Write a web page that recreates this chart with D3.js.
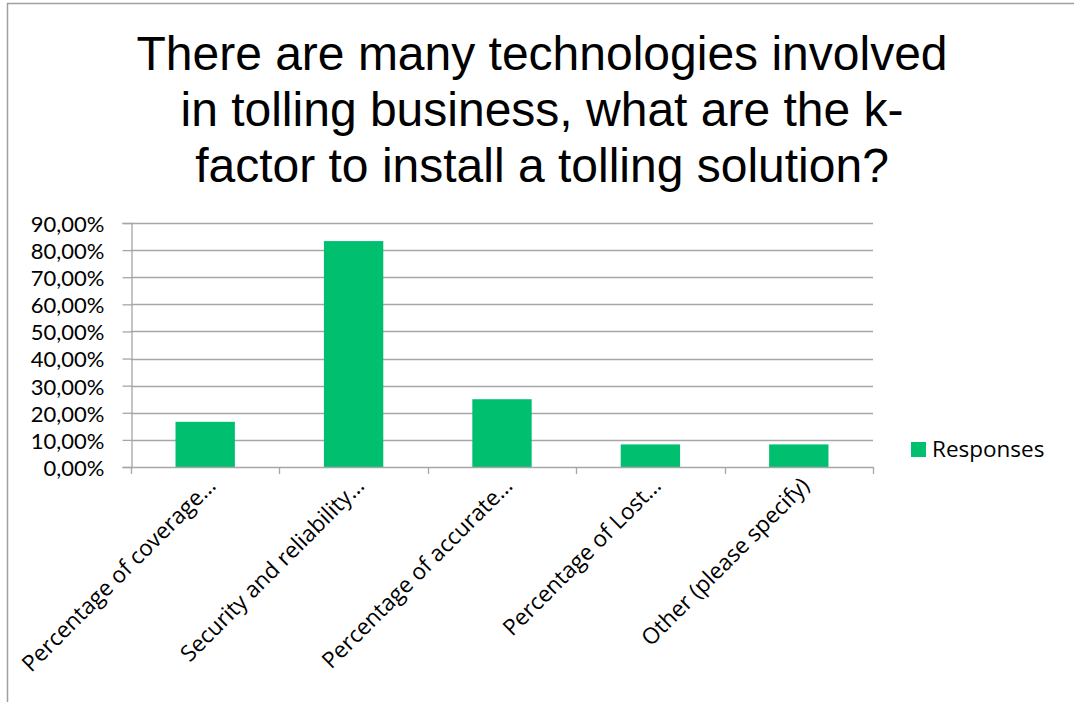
<!DOCTYPE html>
<html>
<head>
<meta charset="utf-8">
<script src="https://cdn.jsdelivr.net/npm/d3@7"></script>
<style>
  html, body { margin: 0; padding: 0; background: #fff; }
  svg { display: block; }
</style>
</head>
<body>
<div id="chart"></div>
<script>
// Survey answers: share of respondents naming each key factor
const categories = [
  "Percentage of coverage\u2026",
  "Security and reliability\u2026",
  "Percentage of accurate\u2026",
  "Percentage of Lost\u2026",
  "Other (please specify)"
];
const responses = [0.1667, 0.8333, 0.25, 0.0833, 0.0833];
const yTicks = [0, 0.1, 0.2, 0.3, 0.4, 0.5, 0.6, 0.7, 0.8, 0.9];
const titleLines = [
  "There are many technologies involved",
  "in tolling business, what are the k-",
  "factor to install a tolling solution?"
];
const seriesName = "Responses";

const W = 1074, H = 702;
const green = "#00bf6f";
const gridColor = "#a6a6a6";
const labelFont = "'Open Sans', sans-serif";
const tickFont = "Lato, 'Open Sans', sans-serif";

const svg = d3.select("#chart").append("svg")
  .attr("width", W).attr("height", H);

// outer chart frame (left and top edges visible)
svg.append("path")
  .attr("d", `M7.5,${H} V3.5 H${W}`)
  .attr("fill", "none")
  .attr("stroke", "#a0a0a0")
  .attr("stroke-width", 1.5);

// title
svg.append("g")
  .selectAll("text")
  .data(titleLines)
  .join("text")
  .attr("x", 542)
  .attr("y", (d, i) => 70 + i * 56)
  .attr("text-anchor", "middle")
  .attr("font-family", "'Liberation Sans', Arial, sans-serif")
  .attr("font-size", 48)
  .attr("fill", "#000")
  .text(d => d);

const plot = { left: 131, right: 873, top: 223, bottom: 467 };

const x = d3.scaleBand()
  .domain(categories)
  .range([plot.left, plot.right])
  .padding(0);

const y = d3.scaleLinear()
  .domain([0, 0.9])
  .range([plot.bottom, plot.top]);

// horizontal gridlines
svg.append("g")
  .selectAll("line")
  .data(yTicks.slice(1))
  .join("line")
  .attr("x1", plot.left).attr("x2", plot.right)
  .attr("y1", d => Math.round(y(d)) + 0.5)
  .attr("y2", d => Math.round(y(d)) + 0.5)
  .attr("stroke", gridColor)
  .attr("stroke-width", 1.3);

// bars
const barW = x.bandwidth() * 0.4;
svg.append("g")
  .selectAll("rect")
  .data(responses)
  .join("rect")
  .attr("x", (d, i) => x(categories[i]) + (x.bandwidth() - barW) / 2)
  .attr("y", d => y(d))
  .attr("width", barW)
  .attr("height", d => y(0) - y(d))
  .attr("fill", green);

// y axis
const yAxis = d3.axisLeft(y)
  .tickValues(yTicks)
  .tickSize(9)
  .tickPadding(18)
  .tickFormat(d => d3.format(".2f")(d * 100).replace(".", ",") + "%");

const gy = svg.append("g")
  .attr("transform", `translate(${plot.left + 0.5},0)`)
  .call(yAxis);
gy.select(".domain").attr("stroke", gridColor).attr("stroke-width", 1.3);
gy.selectAll(".tick line").attr("stroke", gridColor).attr("stroke-width", 1.3);
gy.selectAll(".tick text")
  .attr("font-family", tickFont)
  .attr("font-size", 22)
  .attr("fill", "#000")
  .attr("dy", "0.38em");

// x axis: tick marks at category boundaries
const boundaries = categories.map(c => x(c)).concat([x.range()[1]]);
const gx = svg.append("g");
gx.append("line")
  .attr("x1", plot.left).attr("x2", plot.right)
  .attr("y1", Math.round(y(0)) + 0.5).attr("y2", Math.round(y(0)) + 0.5)
  .attr("stroke", gridColor).attr("stroke-width", 1.3);
gx.selectAll("line.tick")
  .data(boundaries)
  .join("line")
  .attr("class", "tick")
  .attr("x1", d => Math.round(d) + 0.5).attr("x2", d => Math.round(d) + 0.5)
  .attr("y1", y(0)).attr("y2", y(0) + 7)
  .attr("stroke", gridColor).attr("stroke-width", 1.3);

// rotated category labels
gx.selectAll("text")
  .data(categories)
  .join("text")
  .attr("transform", d => `translate(${x(d) + x.bandwidth() / 2 + 12},${y(0) + 20}) rotate(-45)`)
  .attr("text-anchor", "end")
  .attr("font-family", labelFont)
  .attr("font-size", 22.5)
  .attr("fill", "#000")
  .text(d => d);

// legend
const legend = svg.append("g").attr("transform", "translate(911,442)");
legend.append("rect")
  .attr("width", 15).attr("height", 15)
  .attr("fill", green);
legend.append("text")
  .attr("x", 21).attr("y", 15)
  .attr("font-family", labelFont)
  .attr("font-size", 22.5)
  .attr("fill", "#000")
  .text(seriesName);
</script>
</body>
</html>
